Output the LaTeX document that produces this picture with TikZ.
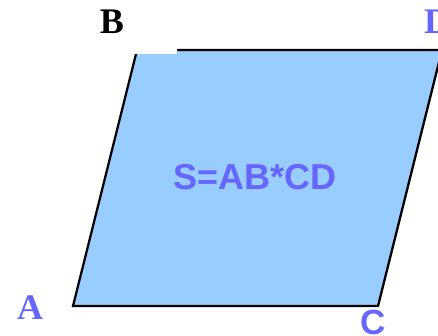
\documentclass[tikz,border=0pt]{standalone}
\usepackage{fontspec}
\setmainfont{Liberation Serif}
\setsansfont{Liberation Sans}
\usepackage{tikz}
\usetikzlibrary{positioning}
\definecolor{lightblue}{HTML}{99CCFF}
\definecolor{labelblue}{HTML}{6666FF}
\tikzset{
corner_label/.style={font=\fontsize{36}{36}\selectfont\bfseries, text=labelblue, inner sep=0pt},
sans_label/.style={font=\sffamily\bfseries\fontsize{35}{35}\selectfont, text=labelblue, inner sep=0pt},
area_label/.style={font=\sffamily\bfseries\fontsize{36}{36}\selectfont, text=labelblue, inner sep=0pt},
side/.style={draw=black, line width=2.3pt, fill=lightblue, line join=miter}
}

\begin{document}
\begin{tikzpicture}[x=1pt, y=-1pt]
    \useasboundingbox (0,0) rectangle (438,336);
    \coordinate (a) at (73,306);
    \coordinate (b) at (137,50);
    \coordinate (d) at (442,50);
    \coordinate (c) at (378,306);
    \draw[side] (a) -- (b) -- (d) -- (c) -- cycle;
    \fill[white] (131,45) rectangle (177,54.5);

    \node[corner_label, text=black] (label_b) at (112,22) {B};
    \node[corner_label] (label_d) at (437,22) {D};
    \node[corner_label] (label_a) at (30,308) {A};
    \node[sans_label] (label_c) at (373,322) {C};
    \node[area_label] (area) at (255,177) {S=AB*CD};
\end{tikzpicture}
\end{document}
